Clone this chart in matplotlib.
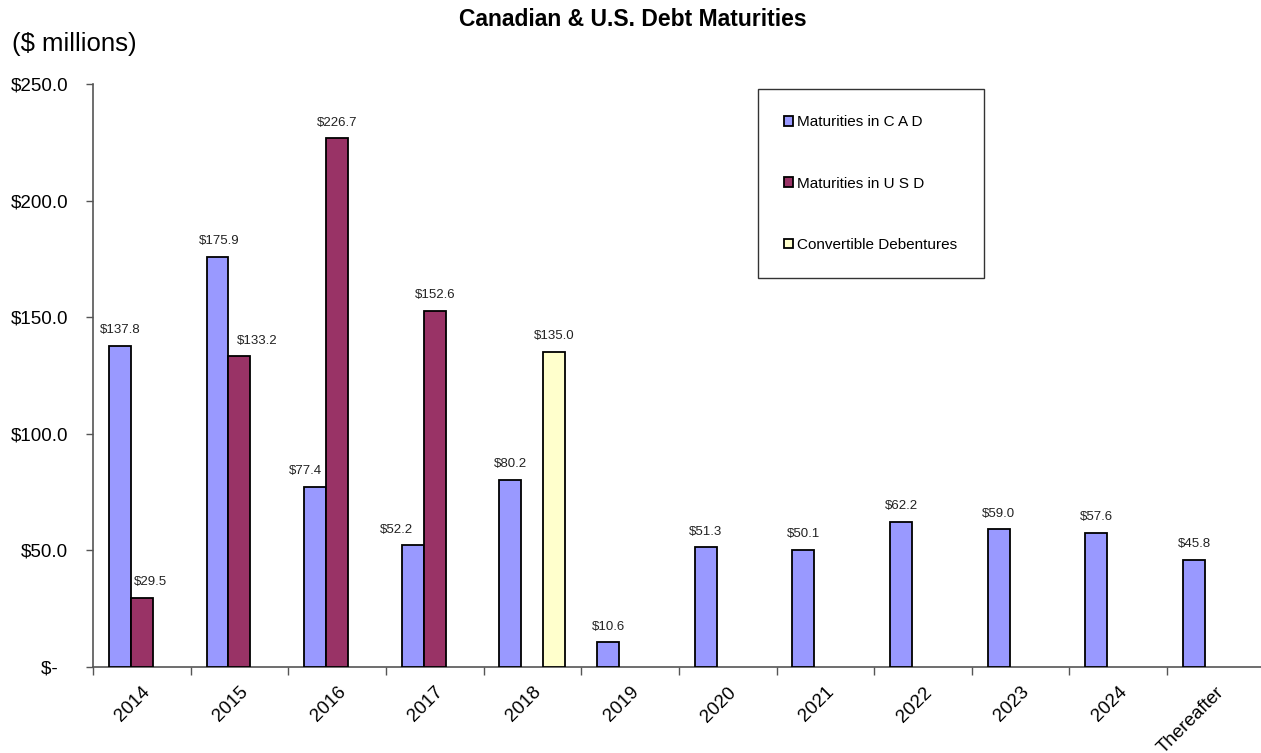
import matplotlib
matplotlib.use("Agg")
import matplotlib.pyplot as plt
import numpy as np

plt.rcParams['font.family'] = ['Liberation Sans', 'DejaVu Sans']

categories = ["2014", "2015", "2016", "2017", "2018", "2019", "2020",
              "2021", "2022", "2023", "2024", "Thereafter"]
cad = [137.8, 175.9, 77.4, 52.2, 80.2, 10.6, 51.3, 50.1, 62.2, 59.0, 57.6, 45.8]
usd = [29.5, 133.2, 226.7, 152.6, None, None, None, None, None, None, None, None]
conv = [None, None, None, None, 135.0, None, None, None, None, None, None, None]
series_names = ["Maturities in C A D", "Maturities in U S D", "Convertible Debentures"]
y_ticks = [0, 50, 100, 150, 200, 250]

colors = ["#9999FF", "#993366", "#FFFFCC"]

fig = plt.figure(figsize=(12.61, 7.53), dpi=100)
ax = fig.add_axes([93 / 1261, 1 - 667 / 753, 1 - 93 / 1261 + 0.003, (667 - 84) / 753])

x = np.arange(len(categories))
width = 0.225
offsets = [-width, 0.0, width]
# horizontal nudges (points) for labels that would otherwise crowd a neighbouring bar
label_dx = {(0, 1): 6, (1, 0): 1, (1, 1): 13, (2, 0): -7, (3, 0): -12}

handles = []
for si, (vals, col) in enumerate(zip([cad, usd, conv], colors)):
    xs = [x[i] + offsets[si] for i, v in enumerate(vals) if v is not None]
    hs = [v for v in vals if v is not None]
    bars = ax.bar(xs, hs, width=width, color=col, edgecolor="black", linewidth=1.3,
                  label=series_names[si], zorder=3)
    handles.append(bars)
    idx = [i for i, v in enumerate(vals) if v is not None]
    for i, xi, h in zip(idx, xs, hs):
        dx = label_dx.get((i, si), 0)
        ax.annotate(f"${h:.1f}", (xi, h), xytext=(dx, 7), textcoords="offset points",
                    ha="center", va="bottom", fontsize=9.5, color="#222222", zorder=5)

ax.set_xlim(-0.5, len(categories) - 0.5)
ax.set_ylim(0, 250)

ax.set_yticks(y_ticks)
ax.set_yticklabels(["$-  " if t == 0 else f"${t:.1f}" for t in y_ticks], fontsize=13.5)
ax.tick_params(axis="y", direction="out", length=5, width=1, color="#555555", pad=13)

ax.set_xticks(x)
ax.set_xticklabels(categories, rotation=45, ha="right", rotation_mode="anchor", fontsize=13.5)
ax.tick_params(axis="x", which="major", length=0, pad=12)
ax.set_xticks(np.arange(len(categories) + 1) - 0.5, minor=True)
ax.tick_params(axis="x", which="minor", direction="out", length=6, width=1, color="#555555")

for s in ["top", "right"]:
    ax.spines[s].set_visible(False)
for s in ["left", "bottom"]:
    ax.spines[s].set_color("#555555")
    ax.spines[s].set_linewidth(1.2)

fig.text(633 / 1261, 1 - 20 / 753, "Canadian & U.S. Debt Maturities", ha="center", va="center",
         fontsize=16.5, fontweight="bold")
fig.text(12 / 1261, 1 - 44 / 753, "($ millions)", ha="left", va="center", fontsize=18.5)

leg = fig.legend(handles=handles, labels=series_names, loc="upper left",
                 bbox_to_anchor=(758 / 1261, 1 - 89 / 753), borderaxespad=0,
                 fontsize=11, handlelength=0.6, handleheight=0.6, handletextpad=0.25,
                 labelspacing=3.1, borderpad=1.72, frameon=True, fancybox=False,
                 edgecolor="#333333", framealpha=1)
leg.get_frame().set_linewidth(1.0)

fig.savefig("out.png", dpi=100)
